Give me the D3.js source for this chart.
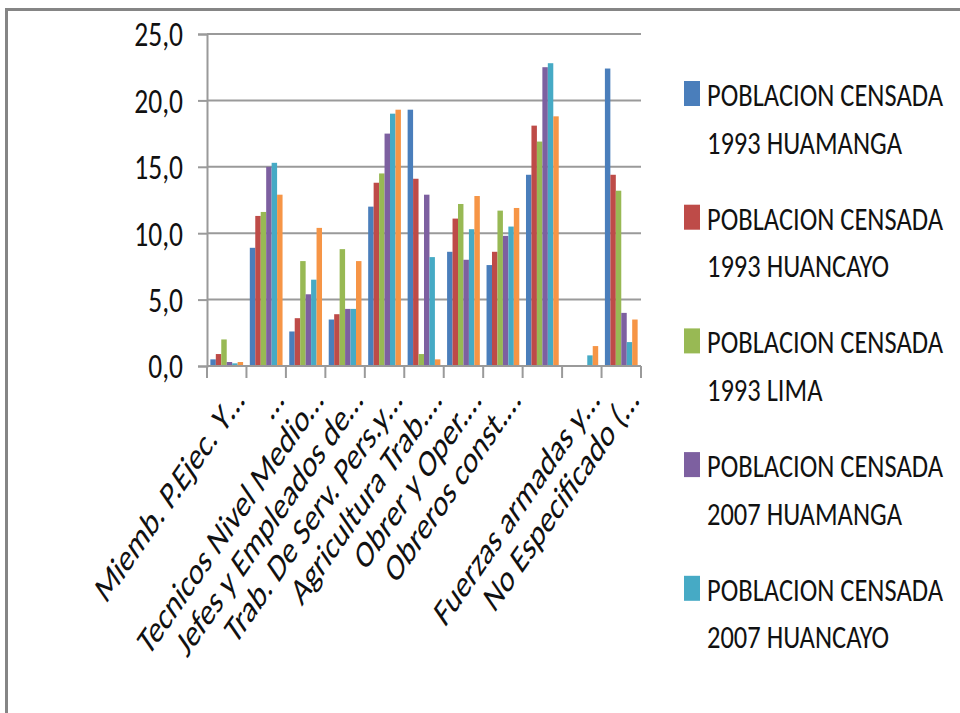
<!DOCTYPE html>
<html>
<head>
<meta charset="utf-8">
<script src="https://cdn.jsdelivr.net/npm/d3@7"></script>
<style>
  html, body { margin: 0; padding: 0; background: #fff; }
  svg { display: block; }
  text { font-family: Carlito, Calibri, Lato, "Noto Sans", sans-serif; fill: #111; }
</style>
</head>
<body>
<svg id="chart" width="960" height="713"></svg>
<script>
// Occupational groups (share of censused population, %)
const categories = [
  "Miemb. P.Ejec. Y…",
  "…",
  "Tecnicos Nivel Medio…",
  "Jefes y Empleados de…",
  "Trab. De Serv. Pers.y…",
  "Agricultura Trab.…",
  "Obrer y Oper.…",
  "Obreros const.…",
  "",
  "Fuerzas armadas y…",
  "No Especificado (…"
];

const seriesNames = [
  "POBLACION CENSADA 1993 HUAMANGA",
  "POBLACION CENSADA 1993 HUANCAYO",
  "POBLACION CENSADA 1993 LIMA",
  "POBLACION CENSADA 2007 HUAMANGA",
  "POBLACION CENSADA 2007 HUANCAYO",
  "POBLACION CENSADA 2007 LIMA"
];

const huamanga1993 = [0.5, 8.9, 2.6, 3.5, 12.0, 19.3, 8.6, 7.6, 14.4, 0.0, 22.4];
const huancayo1993 = [0.9, 11.3, 3.6, 3.9, 13.8, 14.1, 11.1, 8.6, 18.1, 0.0, 14.4];
const lima1993     = [2.0, 11.6, 7.9, 8.8, 14.5, 0.9, 12.2, 11.7, 16.9, 0.0, 13.2];
const huamanga2007 = [0.3, 15.0, 5.4, 4.3, 17.5, 12.9, 8.0, 9.8, 22.5, 0.0, 4.0];
const huancayo2007 = [0.2, 15.3, 6.5, 4.3, 19.0, 8.2, 10.3, 10.5, 22.8, 0.8, 1.8];
const lima2007     = [0.3, 12.9, 10.4, 7.9, 19.3, 0.5, 12.8, 11.9, 18.8, 1.5, 3.5];

const seriesValues = [huamanga1993, huancayo1993, lima1993, huamanga2007, huancayo2007, lima2007];
const colors = ["#4A7EBB", "#BE4B48", "#98B954", "#7D60A0", "#46AAC5", "#F69546"];
const yTicks = [0, 5, 10, 15, 20, 25];

// Legend only has room for the first five entries
const legendCount = 5;

const svg = d3.select("#chart");
const STRETCH = 1.35;           // vertical text stretch
const fmt = d3.formatLocale({decimal: ",", thousands: ".", grouping: [3], currency: ["", ""]}).format(".1f");

// Frame
svg.append("rect")
  .attr("x", 6.5).attr("y", 9.5)
  .attr("width", 1000).attr("height", 800)
  .attr("fill", "none").attr("stroke", "#858585").attr("stroke-width", 3);

const plot = {left: 207, right: 641, top: 34, bottom: 366};

const x = d3.scaleBand()
  .domain(d3.range(categories.length))
  .range([plot.left, plot.right])
  .paddingInner(0.17)
  .paddingOuter(0.085);

const xs = d3.scaleBand()
  .domain(d3.range(seriesValues.length))
  .range([0, x.bandwidth()]);

const y = d3.scaleLinear().domain([0, 25]).range([plot.bottom, plot.top]);

// Horizontal gridlines
svg.append("g")
  .selectAll("line")
  .data(yTicks.filter(v => v > 0))
  .join("line")
  .attr("x1", plot.left).attr("x2", plot.right)
  .attr("y1", d => y(d)).attr("y2", d => y(d))
  .attr("stroke", "#9a9a9a").attr("stroke-width", 2);

// Bars
const groups = svg.append("g")
  .selectAll("g")
  .data(categories.map((c, i) => i))
  .join("g")
  .attr("transform", i => `translate(${x(i)},0)`);

groups.selectAll("rect")
  .data(i => seriesValues.map((vals, s) => ({s, v: vals[i]})))
  .join("rect")
  .attr("x", d => xs(d.s))
  .attr("width", xs.bandwidth())
  .attr("y", d => y(d.v))
  .attr("height", d => y(0) - y(d.v))
  .attr("fill", d => colors[d.s]);

// Y axis
const yAxis = svg.append("g")
  .attr("transform", `translate(${plot.left},0)`)
  .call(d3.axisLeft(y).tickValues(yTicks).tickSize(9).tickFormat(""));
yAxis.select(".domain").attr("stroke", "#9a9a9a").attr("stroke-width", 2);
yAxis.selectAll(".tick line").attr("stroke", "#9a9a9a").attr("stroke-width", 2);

svg.append("g")
  .selectAll("text")
  .data(yTicks)
  .join("text")
  .attr("transform", d => `translate(183,${y(d)}) scale(1,1.25)`)
  .attr("text-anchor", "end")
  .attr("dy", "0.36em")
  .attr("font-size", 27.5)
  .text(d => fmt(d));

// X axis line and category boundary ticks
const step = x.step();
const boundaries = d3.range(categories.length + 1).map(i => plot.left + i * step);
svg.append("line")
  .attr("x1", plot.left).attr("x2", plot.right)
  .attr("y1", y(0)).attr("y2", y(0))
  .attr("stroke", "#9a9a9a").attr("stroke-width", 2);
svg.append("g")
  .selectAll("line")
  .data(boundaries)
  .join("line")
  .attr("x1", d => d).attr("x2", d => d)
  .attr("y1", y(0)).attr("y2", y(0) + 12)
  .attr("stroke", "#9a9a9a").attr("stroke-width", 2);

// Rotated category labels
svg.append("g")
  .selectAll("text")
  .data(categories)
  .join("text")
  .attr("transform", (d, i) => `translate(${x(i) + x.bandwidth() / 2 + 19},402) scale(1,1.45) rotate(-45)`)
  .attr("text-anchor", "end")
  .attr("font-size", 27)
  .text(d => d);

// Legend
const legend = svg.append("g")
  .selectAll("g")
  .data(seriesNames.slice(0, legendCount))
  .join("g")
  .attr("transform", (d, i) => `translate(684,${81 + i * 123.7})`);

legend.append("rect")
  .attr("width", 16).attr("height", 25)
  .attr("fill", (d, i) => colors[i]);

legend.each(function(name) {
  const g = d3.select(this);
  const cut = name.indexOf("CENSADA") + 7;
  const lines = [name.slice(0, cut), name.slice(cut + 1)];
  lines.forEach((ln, k) => {
    g.append("text")
      .attr("transform", `translate(23,${25 + k * 47.6}) scale(1.06,${STRETCH})`)
      .attr("font-size", 25)
      .text(ln);
  });
});
</script>
</body>
</html>
